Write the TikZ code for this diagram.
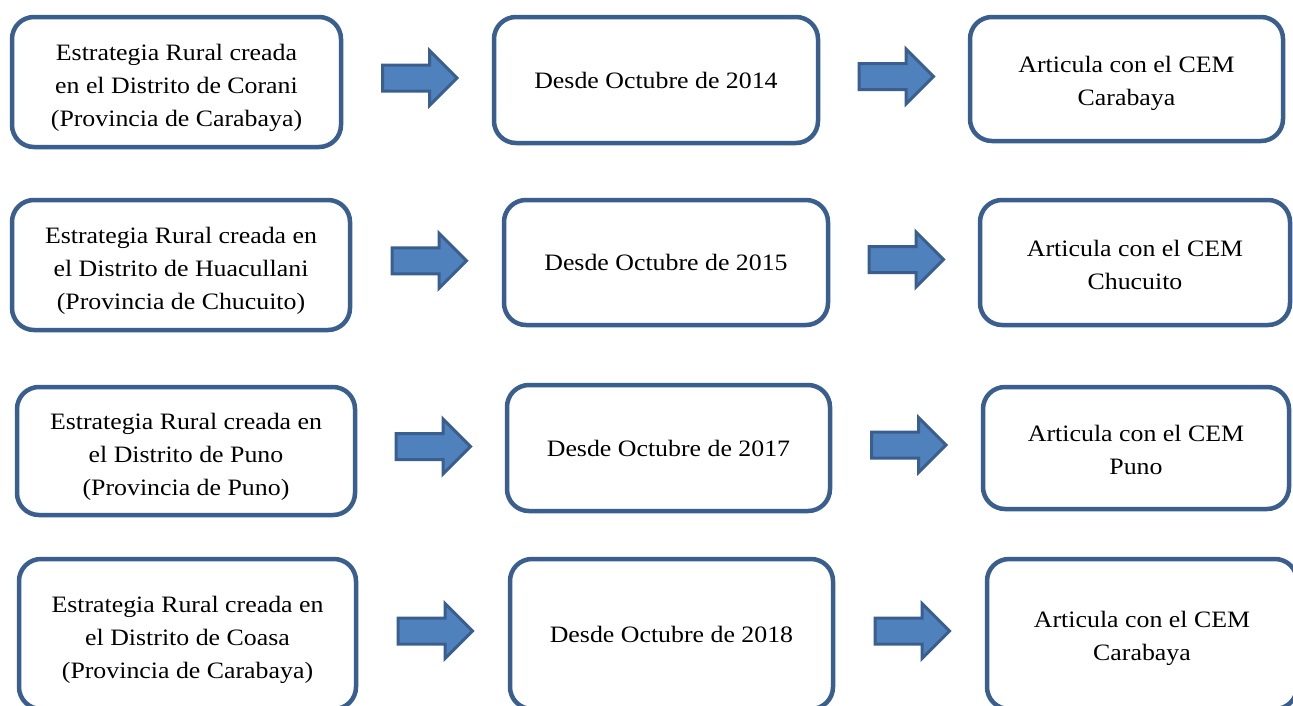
\documentclass[tikz,border=0pt]{standalone}
\usepackage{fontspec}
\setmainfont{Liberation Serif}[FakeStretch=1.1]
\usetikzlibrary{calc}
\definecolor{boxblue}{HTML}{3A5F8F}
\definecolor{arrfill}{HTML}{4F81BD}
\definecolor{arrline}{HTML}{3A5F8F}
\newcommand\blockarrow[3]{%
  \coordinate (#3) at ($(#1.east)!0.5!(#2.west)+(2,-3)$);
  \draw[barrow,shift={(#3)}] (-37,-13) -- (10,-13) -- (10,-27.5) -- (37.5,0) -- (10,27.5) -- (10,13) -- (-37,13) -- cycle;}
\newcommand\mtext[2][33pt]{\begin{tabular}{@{}c@{}}\rule{0pt}{#1}#2\end{tabular}}
\begin{document}
\begin{tikzpicture}[x=1pt,y=-1pt,
  card/.style={draw=boxblue, line width=4.5pt, rounded corners=22pt, fill=white,
    align=center, inner sep=0pt, font=\fontsize{23.5}{33}\selectfont},
  barrow/.style={fill=arrfill, draw=arrline, line width=3pt, line join=miter}]
\useasboundingbox (0,0) rectangle (1293,705);
\clip (0,0) rectangle (1293,705);
\fill[white] (0,0) rectangle (1293,705);

% row 1
\node[card, minimum width=329pt, minimum height=130pt] (a1) at (176.5,82)
  {\mtext{Estrategia Rural creada\\en el Distrito de Corani\\(Provincia de Carabaya)}};
\node[card, minimum width=324pt, minimum height=126pt] (b1) at (656,80)
  {Desde Octubre de 2014};
\node[card, minimum width=313pt, minimum height=124pt] (c1) at (1126.5,79)
  {\mtext[30pt]{Articula con el CEM\\Carabaya}};
% row 2
\node[card, minimum width=338pt, minimum height=130pt] (a2) at (181,265)
  {\mtext{Estrategia Rural creada en\\el Distrito de Huacullani\\(Provincia de Chucuito)}};
\node[card, minimum width=324pt, minimum height=125pt] (b2) at (666,262.5)
  {Desde Octubre de 2015};
\node[card, minimum width=310pt, minimum height=125pt] (c2) at (1135,262.5)
  {\mtext[30pt]{Articula con el CEM\\Chucuito}};
% row 3
\node[card, minimum width=338pt, minimum height=128pt] (a3) at (186,451)
  {\mtext{Estrategia Rural creada en\\el Distrito de Puno\\(Provincia de Puno)}};
\node[card, minimum width=323pt, minimum height=126pt] (b3) at (668.5,448)
  {Desde Octubre de 2017};
\node[card, minimum width=306pt, minimum height=122pt] (c3) at (1136,448)
  {\mtext[30pt]{Articula con el CEM\\Puno}};
% row 4
\node[card, minimum width=337pt, minimum height=150pt] (a4) at (187.5,634)
  {\mtext{Estrategia Rural creada en\\el Distrito de Coasa\\(Provincia de Carabaya)}};
\node[card, minimum width=323pt, minimum height=150pt] (b4) at (671.5,634)
  {Desde Octubre de 2018};
\node[card, minimum width=310pt, minimum height=150pt] (c4) at (1142,634)
  {\mtext[30pt]{Articula con el CEM\\Carabaya}};

\blockarrow{a1}{b1}{r1a}
\blockarrow{b1}{c1}{r1b}
\blockarrow{a2}{b2}{r2a}
\blockarrow{b2}{c2}{r2b}
\blockarrow{a3}{b3}{r3a}
\blockarrow{b3}{c3}{r3b}
\blockarrow{a4}{b4}{r4a}
\blockarrow{b4}{c4}{r4b}
\end{tikzpicture}
\end{document}
